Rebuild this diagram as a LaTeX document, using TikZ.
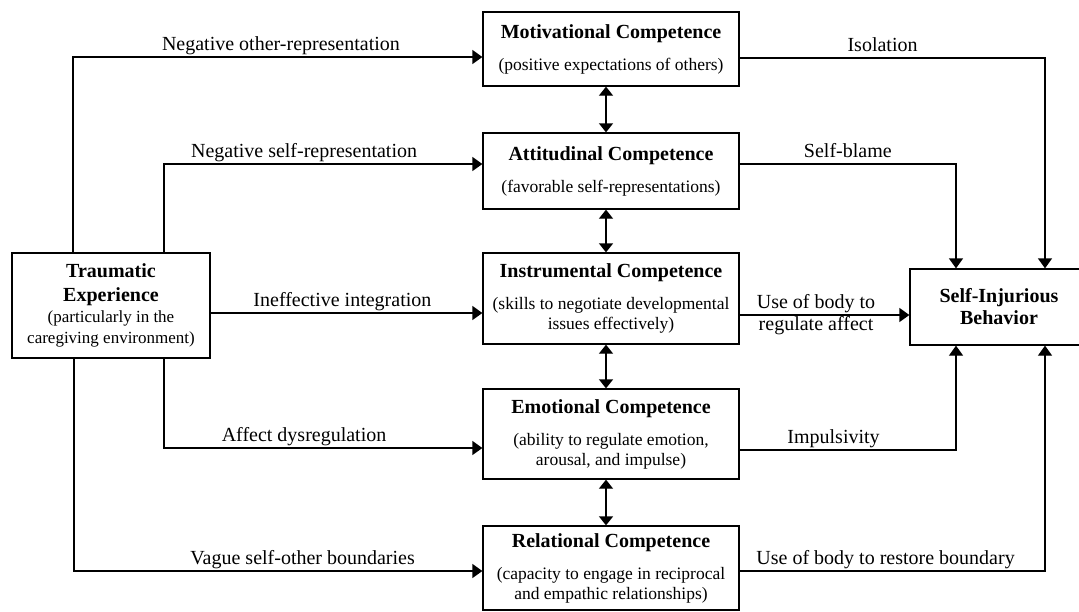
\documentclass[tikz,border=0pt]{standalone}
\usepackage{fontspec}
\setmainfont{Liberation Serif}
\usetikzlibrary{arrows.meta}
\newcommand{\ttl}[1]{{\fontsize{20}{20}\selectfont\bfseries #1}}

\begin{document}
\begin{tikzpicture}[x=1pt, y=-1pt,
  box/.style={draw, line width=1.3pt, inner sep=0pt, align=center, font=\fontsize{17.5}{20}\selectfont},
  arr/.style={line width=1.3pt, -{Triangle[length=10pt, width=14pt]}},
  dbl/.style={line width=1.3pt, {Triangle[length=9pt, width=14pt]}-{Triangle[length=9pt, width=14pt]}},
  lab/.style={above=5.5pt, inner sep=0pt, text depth=0pt, font=\fontsize{20}{22}\selectfont}]
  \useasboundingbox (0,0) rectangle (1079,611);

  % Nodes
  \node[box, minimum width=198pt, minimum height=105pt, font=\fontsize{17}{21}\selectfont] (trauma) at (111,305.5)
    {\ttl{Traumatic}\\[3pt]\ttl{Experience}\\(particularly in the\\caregiving environment)};
  \node[box, minimum width=256pt, minimum height=74pt] (motiv) at (611,49)
    {\ttl{Motivational Competence}\\[12pt](positive expectations of others)};
  \node[box, minimum width=256pt, minimum height=76pt] (att) at (611,171)
    {\ttl{Attitudinal Competence}\\[12pt](favorable self-representations)};
  \node[box, minimum width=256pt, minimum height=91pt] (inst) at (611,298.5)
    {\ttl{Instrumental Competence}\\[12pt](skills to negotiate developmental\\issues effectively)};
  \node[box, minimum width=256pt, minimum height=90pt] (emo) at (611,434)
    {\ttl{Emotional Competence}\\[12pt](ability to regulate emotion,\\arousal, and impulse)};
  \node[box, minimum width=256pt, minimum height=84pt] (rel) at (611,568)
    {\ttl{Relational Competence}\\[12pt](capacity to engage in reciprocal\\and empathic relationships)};
  \node[box, minimum width=178pt, minimum height=76pt] (sib) at (999,307)
    {\ttl{Self-Injurious}\\[2pt]\ttl{Behavior}};

  % Arrows from the traumatic experience
  \draw[arr] ([xshift=-38pt]trauma.north) |- node[lab, pos=0.754] {Negative other-representation} ([yshift=-8pt]motiv.west);
  \draw[arr] ([xshift=53pt]trauma.north) |- node[lab, pos=0.72] {Negative self-representation} ([yshift=7pt]att.west);
  \draw[arr] ([yshift=-7.5pt]trauma.east) -- node[lab, pos=0.485] {Ineffective integration} ([yshift=-7.5pt]trauma.east -| inst.west);
  \draw[arr] ([xshift=53pt]trauma.south) |- node[lab, pos=0.72] {Affect dysregulation} ([yshift=-14pt]emo.west);
  \draw[arr] ([xshift=-37pt]trauma.south) |- node[lab, pos=0.78] {Vague self-other boundaries} ([yshift=-3pt]rel.west);

  % Arrows between the competences
  \draw[dbl] ([xshift=-5pt]motiv.south) -- ([xshift=-5pt]att.north);
  \draw[dbl] ([xshift=-5pt]att.south) -- ([xshift=-5pt]inst.north);
  \draw[dbl] ([xshift=-5pt]inst.south) -- ([xshift=-5pt]emo.north);
  \draw[dbl] ([xshift=-5pt]emo.south) -- ([xshift=-5pt]rel.north);

  % Arrows to self-injurious behavior
  \draw[arr] ([yshift=-9pt]motiv.east) -| node[lab, pos=0.234] {Isolation} ([xshift=46pt]sib.north);
  \draw[arr] ([yshift=7pt]att.east) -| node[lab, pos=0.25] {Self-blame} ([xshift=-43pt]sib.north);
  \draw[arr] ([yshift=-16.5pt]inst.east) -- node[pos=0.45, inner sep=0pt, align=center, font=\fontsize{20}{22}\selectfont]
    {Use of body to\\regulate affect} ([yshift=-16.5pt]inst.east -| sib.west);
  \draw[arr] ([yshift=-16pt]emo.east) -| node[lab, pos=0.217] {Impulsivity} ([xshift=-43pt]sib.south);
  \draw[arr] ([yshift=-3pt]rel.east) -| node[lab, pos=0.239] {Use of body to restore boundary} ([xshift=46pt]sib.south);
\end{tikzpicture}
\end{document}
